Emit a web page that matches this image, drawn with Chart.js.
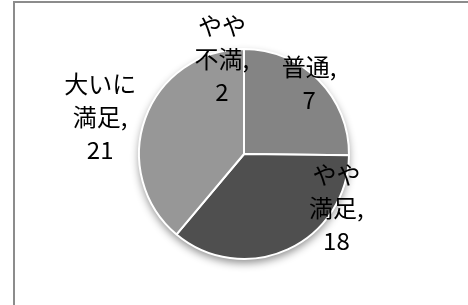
<!DOCTYPE html>
<html><head><meta charset="utf-8">
<script src="https://cdn.jsdelivr.net/npm/chart.js@4"></script>
<style>
html,body{margin:0;padding:0;background:#fff;overflow:hidden}
#wrap{position:relative;width:468px;height:305px}
#frame{position:absolute;left:13px;top:1px;width:470px;height:320px;border-left:2px solid #8c8c8c;border-top:2px solid #8c8c8c}
canvas{position:absolute;left:0;top:0}
</style></head>
<body>
<div id="wrap"><div id="frame"></div><canvas id="c" width="468" height="305"></canvas></div>
<script>
// categories (clockwise from 12 o'clock) and the numbers printed in the labels
const categories = ["やや不満","普通","やや満足","大いに満足"];
const labelLines = [["やや","不満"],["普通"],["やや","満足"],["大いに","満足"]];
const counts = [2, 7, 18, 21];
// slice sizes as drawn in the picture (% of the circle, measured off the angles);
// they don't follow the printed counts, the picture draws them this way
const sliceShares = [0, 25.2, 35.9, 38.9];
const colors = ["#6e6e6e","#848484","#4f4f4f","#979797"];
// label block centre, in pie radii from the pie centre
const labelPos = [[-0.21,-0.91],[0.62,-0.67],[0.88,0.51],[-1.37,-0.35]];

const FONT = '24px "Noto Sans CJK JP", "Noto Sans", sans-serif';
const LINE_H = 33;

const pieShadow = {
  id:"pieShadow",
  beforeDatasetsDraw(chart){
    const a = chart.getDatasetMeta(0).data[1]; if(!a) return;
    const ctx = chart.ctx; ctx.save();
    ctx.shadowColor = "rgba(0,0,0,0.45)"; ctx.shadowBlur = 9; ctx.shadowOffsetY = 4;
    ctx.fillStyle = "#fff"; ctx.beginPath(); ctx.arc(a.x, a.y, a.outerRadius, 0, Math.PI*2); ctx.fill();
    ctx.restore();
  }
};
const pieLabels = {
  id:"pieLabels",
  afterDatasetsDraw(chart){
    const a = chart.getDatasetMeta(0).data[1]; if(!a) return;
    const ctx = chart.ctx; ctx.save();
    ctx.font = FONT; ctx.fillStyle = "#000"; ctx.textAlign = "center"; ctx.textBaseline = "middle";
    categories.forEach((c,i)=>{
      const lines = labelLines[i].slice(); lines[lines.length-1] += ",";
      lines.push(String(counts[i]));
      const cx = a.x + labelPos[i][0]*a.outerRadius, cy = a.y + labelPos[i][1]*a.outerRadius;
      const y0 = cy - (lines.length-1)*LINE_H/2;
      lines.forEach((t,k)=>ctx.fillText(t, cx, y0 + k*LINE_H));
    });
    ctx.restore();
  }
};

new Chart(document.getElementById("c"), {
  type:"pie",
  data:{ labels:categories, datasets:[{ data:sliceShares, backgroundColor:colors, borderColor:"#fff", borderWidth:2 }] },
  options:{
    responsive:false, animation:false,
    layout:{ padding:{ left:138, right:118, top:48, bottom:45 } },
    plugins:{ legend:{display:false}, tooltip:{enabled:false} }
  },
  plugins:[pieShadow, pieLabels]
});
</script>
</body></html>
